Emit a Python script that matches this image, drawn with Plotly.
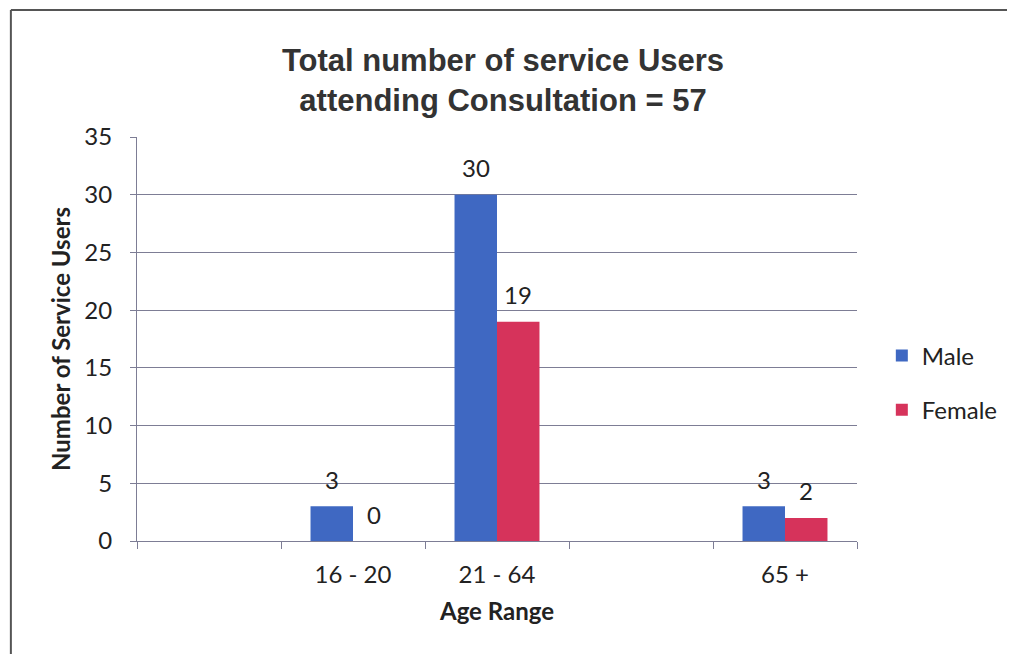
import plotly.graph_objects as go

categories = [" ", "16 - 20", "21 - 64", "  ", "65 +"]
male = [None, 3, 30, None, 3]
female = [None, 0, 19, None, 2]
series_names = ["Male", "Female"]
y_ticks = [0, 5, 10, 15, 20, 25, 30, 35]

BLUE = "#3F68C2"
RED = "#D6335B"
GRID = "#7d7d95"
LABEL_FONT = "Lato, Open Sans, DejaVu Sans, sans-serif"

# page has an 8px body offset; figure is shrunk by 8px so it fits the window,
# margins place the plot area at page x 137-858, y 137-541
W, H = 1007, 646
L, T, R, B = 129, 129, 153, 113
PW, PH = W - L - R, H - T - B

fig = go.Figure()
fig.add_trace(go.Bar(x=categories, y=male, name=series_names[0], marker_color=BLUE,
                     marker_line_width=0, legendgroup="m"))
fig.add_trace(go.Bar(x=categories, y=female, name=series_names[1], marker_color=RED,
                     marker_line_width=0, legendgroup="f"))

annotations = []
for vals, shift in ((male, -21), (female, 21)):
    for c, v in zip(categories, vals):
        if v is None:
            continue
        annotations.append(dict(x=c, y=v, xref="x", yref="y", text=str(v), showarrow=False,
                                xshift=shift, yshift=27, yanchor="middle",
                                font=dict(family=LABEL_FONT, size=24, color="#222")))

fig.update_layout(
    width=W, height=H,
    margin=dict(l=L, r=R, t=T, b=B),
    paper_bgcolor="white", plot_bgcolor="white",
    barmode="group", bargap=0.41, bargroupgap=0,
    title=dict(text="<b>Total number of service Users<br>attending Consultation = 57</b>",
               x=(503 - 8) / W, xanchor="center", y=1 - 63 / H, yanchor="middle",
               font=dict(family="Liberation Sans, Arial, sans-serif", size=31, color="#333")),
    legend=dict(x=(887 - 137) / PW, xanchor="left", y=(541 - 383) / PH, yanchor="middle",
                font=dict(family=LABEL_FONT, size=24, color="#222"),
                tracegroupgap=20, bgcolor="rgba(0,0,0,0)"),
    annotations=annotations,
    showlegend=True,
)

fig.update_yaxes(range=[0, 35], tickvals=y_ticks, showgrid=True, gridcolor=GRID, gridwidth=1,
                 showline=True, linecolor=GRID, linewidth=1, ticks="outside", ticklen=6,
                 tickcolor=GRID, ticklabelstandoff=13, zeroline=False,
                 tickfont=dict(family=LABEL_FONT, size=24, color="#222"),
                 title=dict(text="<b>Number of Service Users</b>", standoff=6,
                            font=dict(family=LABEL_FONT, size=24, color="#222")))
fig.update_xaxes(type="category", categoryorder="array", categoryarray=categories,
                 tickson="boundaries", ticks="outside", ticklen=7, tickcolor=GRID,
                 showline=True, linecolor=GRID, linewidth=1, showgrid=False,
                 ticklabelstandoff=12,
                 tickfont=dict(family=LABEL_FONT, size=24, color="#222"),
                 title=dict(text="<b>Age Range</b>", standoff=16,
                            font=dict(family=LABEL_FONT, size=24, color="#222")))

# outer chart frame: only the top and left edges are visible in the scan
fx0 = (2 - L) / PW
fx1 = (W + 40 - L) / PW
fy_top = (PH + T - 2) / PH
fy_bot = (PH + T - (H + 40)) / PH
for x0, y0, x1, y1 in ((fx0, fy_top, fx1, fy_top), (fx0, fy_top, fx0, fy_bot)):
    fig.add_shape(type="line", xref="paper", yref="paper", x0=x0, y0=y0, x1=x1, y1=y1,
                  line=dict(color="#555", width=2), layer="below")

fig.write_html("out.html")
